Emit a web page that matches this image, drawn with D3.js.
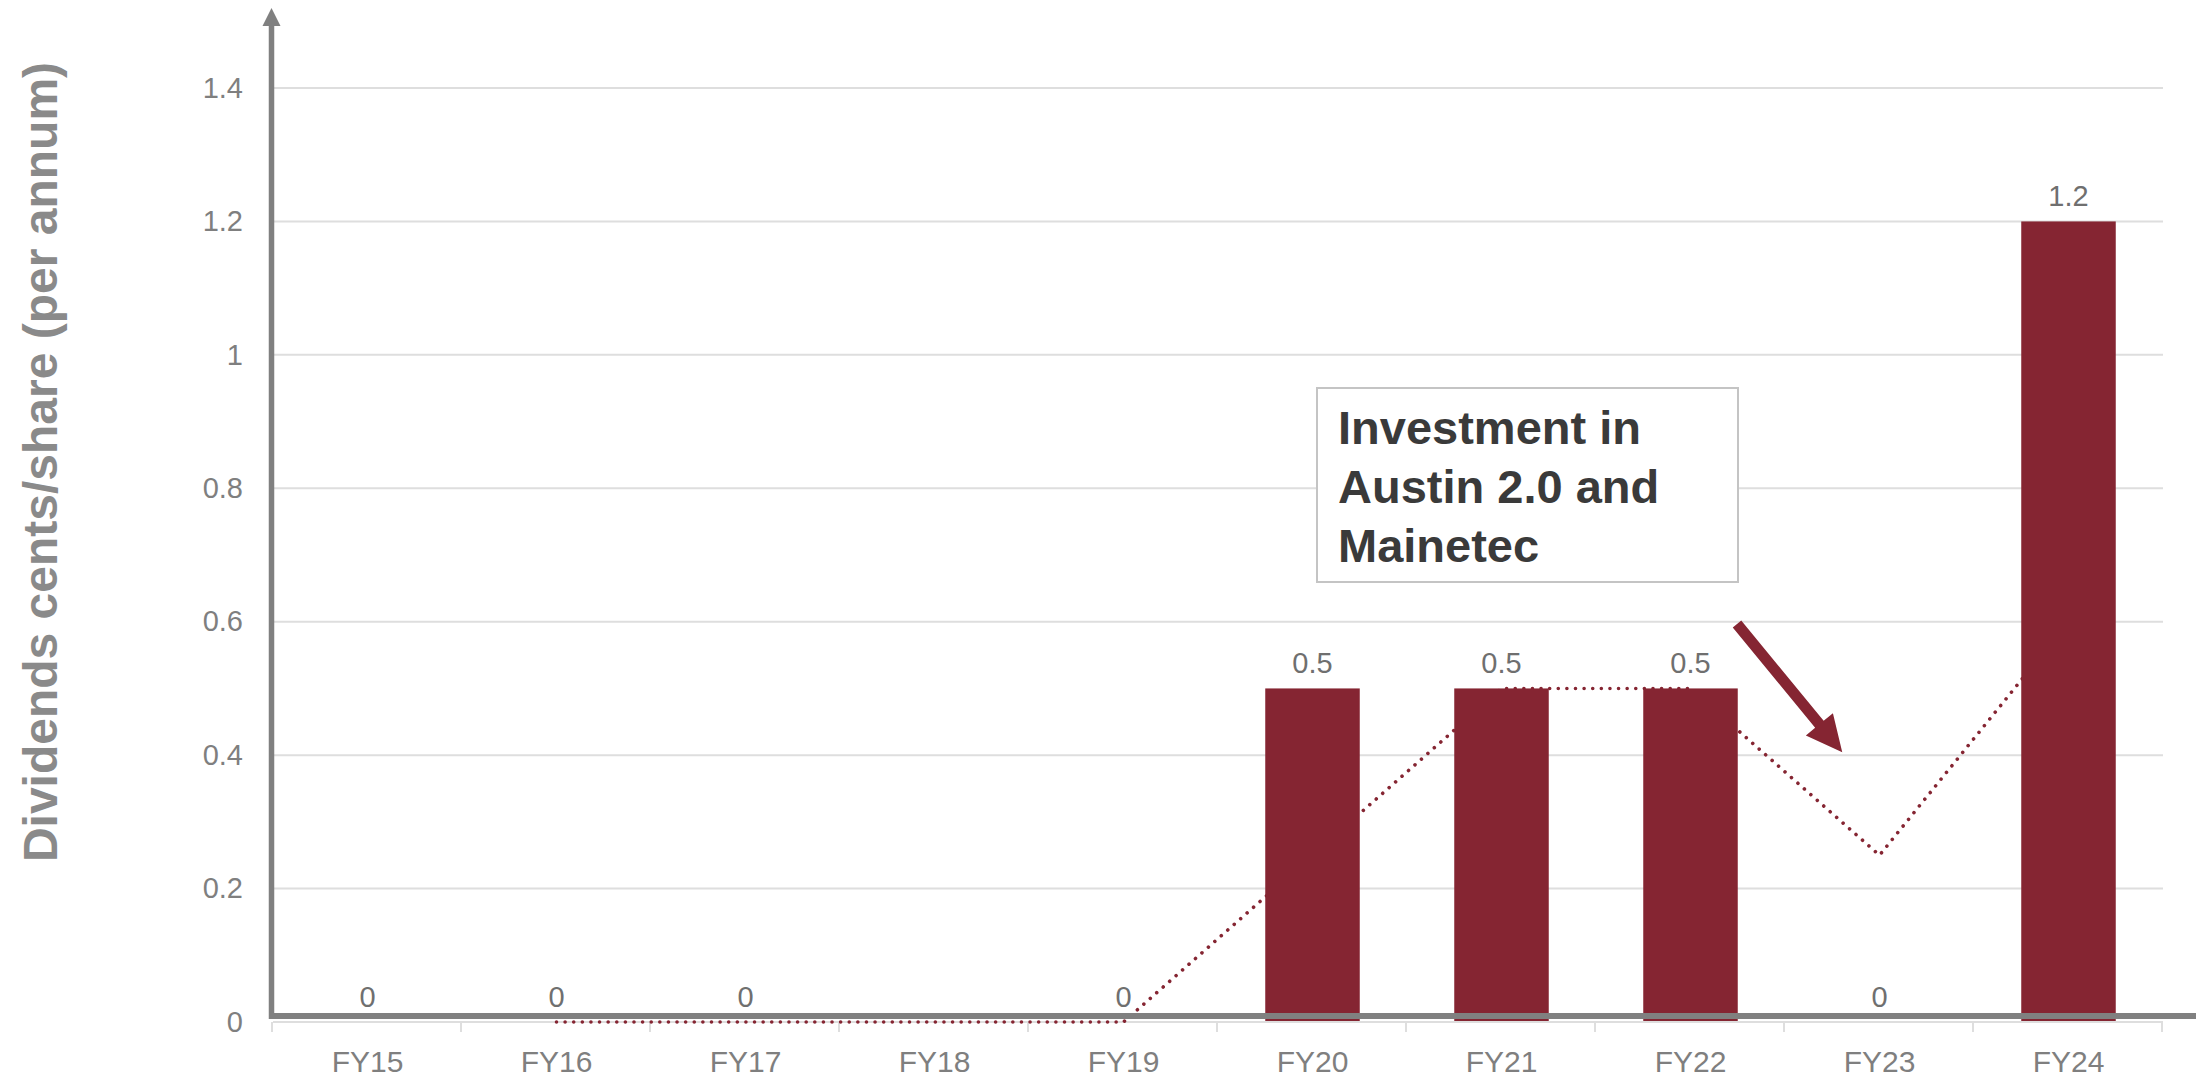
<!DOCTYPE html>
<html>
<head>
<meta charset="utf-8">
<script src="https://cdn.jsdelivr.net/npm/d3@7/dist/d3.min.js"></script>
<style>
  html, body { margin: 0; padding: 0; background: #fff; }
  svg { display: block; font-family: "Liberation Sans", Arial, sans-serif; }
</style>
</head>
<body>
<svg id="chart" width="2196" height="1078"></svg>
<script>
// Dividends per share by financial year (FY18 not reported)
const years = ["FY15", "FY16", "FY17", "FY18", "FY19", "FY20", "FY21", "FY22", "FY23", "FY24"];
const dividends = [0, 0, 0, null, 0, 0.5, 0.5, 0.5, 0, 1.2];
// Two-period moving average trend line (starts at FY16)
const trend = [null, 0, 0, 0, 0, 0.25, 0.5, 0.5, 0.25, 0.6];
const yTicks = [0, 0.2, 0.4, 0.6, 0.8, 1, 1.2, 1.4];
const yTitle = "Dividends cents/share (per annum)";
const noteLines = ["Investment in", "Austin 2.0 and", "Mainetec"];

const W = 2196, H = 1078;
const plot = { left: 273, right: 2163, top: 88, bottom: 1022 };
const barColor = "#852532";
const axisGray = "#808080";
const gridGray = "#dedede";

const svg = d3.select("#chart");

const x = d3.scaleBand()
  .domain(years)
  .range([plot.left, plot.right])
  .paddingInner(0.5)
  .paddingOuter(0.25);

const y = d3.scaleLinear()
  .domain([0, 1.4])
  .range([plot.bottom, plot.top]);

// Horizontal gridlines
svg.append("g")
  .selectAll("line")
  .data(yTicks)
  .join("line")
  .attr("x1", plot.left)
  .attr("x2", plot.right)
  .attr("y1", d => y(d))
  .attr("y2", d => y(d))
  .attr("stroke", gridGray)
  .attr("stroke-width", 2);

// Y tick labels
const yAxis = d3.axisLeft(y).tickValues(yTicks).tickSize(0).tickPadding(30)
  .tickFormat(d => d3.format("")(d));
const yg = svg.append("g").attr("transform", `translate(${plot.left},0)`).call(yAxis);
yg.select(".domain").remove();
yg.selectAll("text")
  .attr("font-size", 29)
  .attr("fill", "#7f7f7f")
  .attr("font-family", "'Liberation Sans', Arial, sans-serif");

// X axis: tick marks at category boundaries and labels
const step = x.step();
const boundaries = d3.range(years.length + 1).map(i => plot.left + i * step);
svg.append("g")
  .selectAll("line")
  .data(boundaries)
  .join("line")
  .attr("x1", d => d - 1)
  .attr("x2", d => d - 1)
  .attr("y1", plot.bottom)
  .attr("y2", plot.bottom + 10)
  .attr("stroke", gridGray)
  .attr("stroke-width", 2);

const xAxis = d3.axisBottom(x).tickSize(0).tickPadding(0);
const xg = svg.append("g").attr("transform", `translate(0,${plot.bottom})`).call(xAxis);
xg.select(".domain").remove();
xg.selectAll("text")
  .attr("y", 50)
  .attr("dy", 0)
  .attr("font-size", 30)
  .attr("fill", "#7f7f7f")
  .attr("font-family", "'Liberation Sans', Arial, sans-serif");

// Trend line (dotted), drawn beneath the bars
const trendLine = d3.line()
  .defined(d => d.v !== null)
  .x(d => x(d.k) + x.bandwidth() / 2)
  .y(d => y(d.v));
svg.append("path")
  .datum(years.map((k, i) => ({ k, v: trend[i] })))
  .attr("d", trendLine)
  .attr("fill", "none")
  .attr("stroke", barColor)
  .attr("stroke-width", 3.6)
  .attr("stroke-linecap", "round")
  .attr("stroke-dasharray", "0.01 8.6");

const barData = years.map((k, i) => ({ k, v: dividends[i] })).filter(d => d.v !== null);

// Bars
svg.append("g")
  .selectAll("rect")
  .data(barData)
  .join("rect")
  .attr("x", d => x(d.k))
  .attr("width", x.bandwidth())
  .attr("y", d => y(d.v))
  .attr("height", d => Math.max(0, y(0) - y(d.v) - 1))
  .attr("fill", barColor);

// Value labels
svg.append("g")
  .selectAll("text")
  .data(barData)
  .join("text")
  .attr("x", d => x(d.k) + x.bandwidth() / 2)
  .attr("y", d => y(d.v) - 15)
  .attr("text-anchor", "middle")
  .attr("font-size", 29)
  .attr("fill", "#6f6f6f")
  .text(d => d.v);

// Axis lines with arrowheads
const axisY0 = plot.bottom - 6;
svg.append("line")
  .attr("x1", plot.left - 4).attr("x2", W)
  .attr("y1", axisY0).attr("y2", axisY0)
  .attr("stroke", axisGray).attr("stroke-width", 6);
svg.append("line")
  .attr("x1", plot.left - 1.5).attr("x2", plot.left - 1.5)
  .attr("y1", axisY0 + 3).attr("y2", 22)
  .attr("stroke", axisGray).attr("stroke-width", 5.5);
svg.append("path")
  .attr("d", `M${plot.left - 1.5},8 L${plot.left - 10.5},26 L${plot.left + 7.5},26 Z`)
  .attr("fill", axisGray);

// Y axis title
svg.append("text")
  .attr("transform", `translate(57,${(plot.top + plot.bottom) / 2 - 93}) rotate(-90)`)
  .attr("text-anchor", "middle")
  .attr("font-size", 48)
  .attr("font-weight", "bold")
  .attr("fill", "#8a8a8a")
  .text(yTitle);

// Annotation box
const box = { x: 1317, y: 388, w: 421, h: 194 };
svg.append("rect")
  .attr("x", box.x).attr("y", box.y)
  .attr("width", box.w).attr("height", box.h)
  .attr("fill", "#fff")
  .attr("stroke", "#c4c4c4")
  .attr("stroke-width", 2);
svg.append("text")
  .attr("font-size", 47)
  .attr("font-weight", "bold")
  .attr("fill", "#3a3a3a")
  .selectAll("tspan")
  .data(noteLines)
  .join("tspan")
  .attr("x", box.x + 21)
  .attr("y", (d, i) => box.y + 56 + i * 59)
  .text(d => d);

// Annotation arrow pointing down toward FY23
const start = [box.x + box.w - 1, box.y + box.h + 42];
const tip = [x("FY23") + 10, y(0.4) - 3];
const dx = tip[0] - start[0], dy = tip[1] - start[1];
const len = Math.hypot(dx, dy);
const ux = dx / len, uy = dy / len;
const px = -uy, py = ux;
const shaftHalf = 5.5, headLen = 36, headHalf = 17.5;
const baseX = tip[0] - ux * headLen, baseY = tip[1] - uy * headLen;
const arrowPts = [
  [start[0] + px * shaftHalf, start[1] + py * shaftHalf],
  [baseX + px * shaftHalf, baseY + py * shaftHalf],
  [baseX + px * headHalf, baseY + py * headHalf],
  tip,
  [baseX - px * headHalf, baseY - py * headHalf],
  [baseX - px * shaftHalf, baseY - py * shaftHalf],
  [start[0] - px * shaftHalf, start[1] - py * shaftHalf]
];
svg.append("path")
  .attr("d", d3.line()(arrowPts) + "Z")
  .attr("fill", barColor);
</script>
</body>
</html>
